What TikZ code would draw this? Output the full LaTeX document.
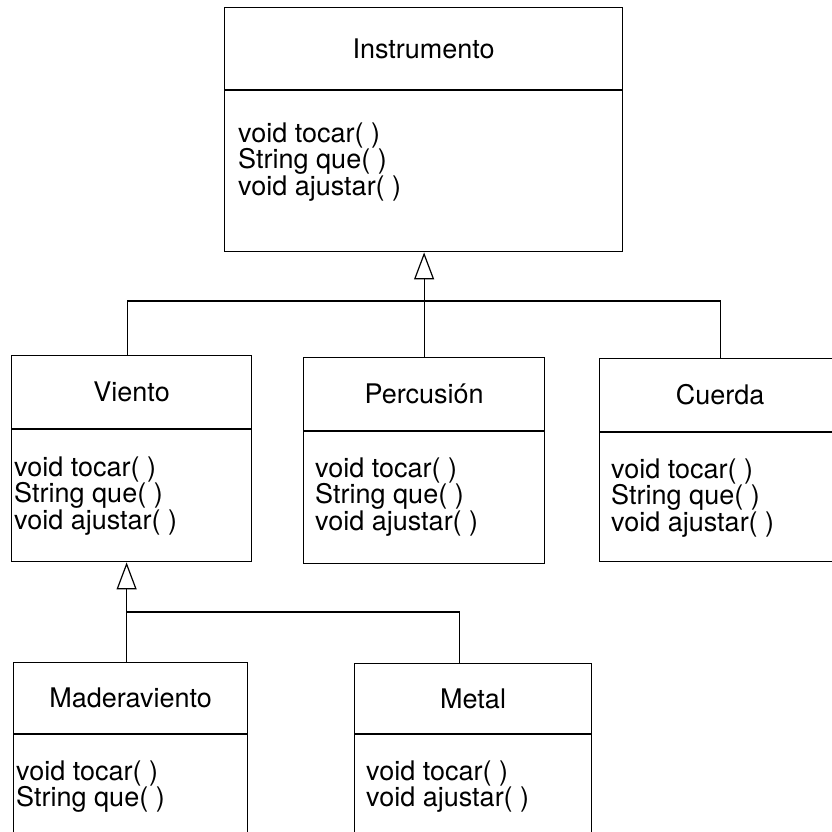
\documentclass[tikz,border=0pt]{standalone}
\usepackage{fontspec}
\setmainfont{TeX Gyre Heros}
\usetikzlibrary{positioning,arrows.meta}

\tikzstyle{classtitle} = [rectangle, draw=black, line width=1.2pt, anchor=north west, minimum height=73pt, inner sep=0pt, font=\fontsize{27}{24}\selectfont]
\tikzstyle{classbody} = [rectangle, draw=black, line width=1.2pt, minimum height=132pt, inner sep=0pt]
\tikzstyle{methods} = [anchor=north west, inner sep=0pt, align=left, font=\fontsize{27}{24}\selectfont]
\tikzstyle{link} = [draw, line width=1.2pt]
\tikzstyle{inherit} = [draw, line width=1.2pt, -{Triangle[open, length=27pt, width=20pt]}]

\begin{document}
\begin{tikzpicture}[x=1pt, y=-1pt]
        \useasboundingbox (0,0) rectangle (831,832);

        % base class
        \node (instrT) [classtitle, minimum width=398pt, minimum height=82pt] at (224,7) {Instrumento};
        \node (instrB) [classbody, minimum width=398pt, minimum height=161pt, below=0pt of instrT] {};
        \node (instrM) [methods, font=\fontsize{27}{22}\selectfont] at ([xshift=14pt, yshift=-32pt]instrB.north west) {void tocar( )\\String que( )\\void ajustar( )};

        % second level
        \node (vientoT) [classtitle, minimum width=240pt] at (11,355) {Viento};
        \node (vientoB) [classbody, minimum width=240pt, below=0pt of vientoT] {};
        \node (vientoM) [methods] at ([xshift=3pt, yshift=-27pt]vientoB.north west) {void tocar( )\\String que( )\\void ajustar( )};

        \node (percT) [classtitle, minimum width=241pt] at (303,357) {Percusión};
        \node (percB) [classbody, minimum width=241pt, below=0pt of percT] {};
        \node (percM) [methods] at ([xshift=12pt, yshift=-26pt]percB.north west) {void tocar( )\\String que( )\\void ajustar( )};

        \node (cuerdaT) [classtitle, minimum width=241pt] at (599,358) {Cuerda};
        \node (cuerdaB) [classbody, minimum width=241pt, minimum height=129pt, below=0pt of cuerdaT] {};
        \node (cuerdaM) [methods] at ([xshift=12pt, yshift=-26pt]cuerdaB.north west) {void tocar( )\\String que( )\\void ajustar( )};

        % third level
        \node (maderaT) [classtitle, minimum width=234pt, minimum height=71pt] at (13,662) {Maderaviento};
        \node (maderaB) [classbody, minimum width=234pt, minimum height=130pt, below=0pt of maderaT] {};
        \node (maderaM) [methods] at ([xshift=3pt, yshift=-26pt]maderaB.north west) {void tocar( )\\String que( )};

        \node (metalT) [classtitle, minimum width=237pt, minimum height=70pt] at (354,663) {Metal};
        \node (metalB) [classbody, minimum width=237pt, minimum height=130pt, below=0pt of metalT] {};
        \node (metalM) [methods] at ([xshift=12pt, yshift=-26pt]metalB.north west) {void tocar( )\\void ajustar( )};

        \coordinate (bus1) at (0,301);
        \coordinate (bus2) at (0,612);

        \path [inherit] (percT.north) -- (percT.north |- instrB.south);
        \path [link] ([xshift=-4pt]vientoT.north) |- (bus1 -| cuerdaT.north) -- (cuerdaT.north);
        \path [inherit] ([xshift=-4pt]maderaT.north) -- ([xshift=-4pt]maderaT.north |- vientoB.south);
        \path [link] ([xshift=-4pt]maderaT.north |- bus2) -| ([xshift=-14pt]metalT.north);
\end{tikzpicture}
\end{document}
